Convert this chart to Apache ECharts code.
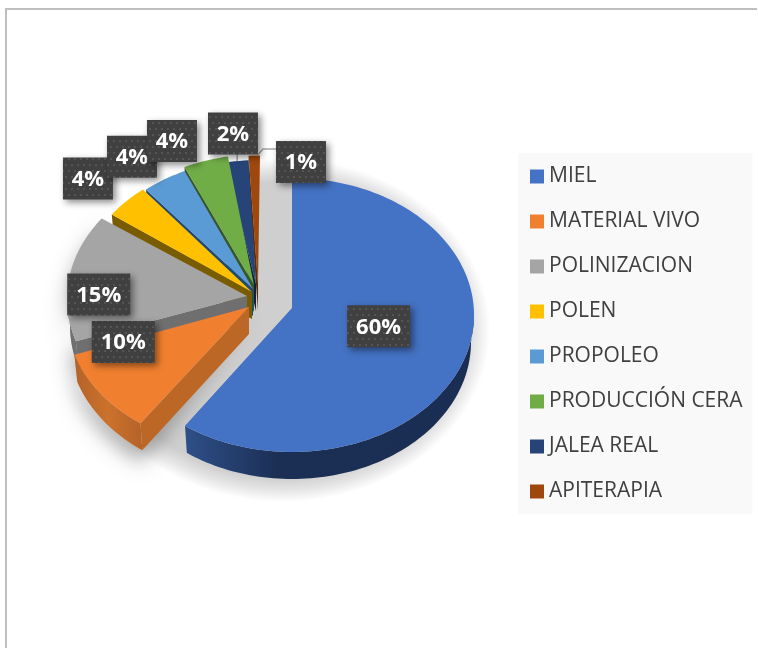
<!DOCTYPE html>
<html><head><meta charset="utf-8">
<style>html,body{margin:0;padding:0;background:#fff}#c{width:758px;height:648px}</style>
<script src="https://cdn.jsdelivr.net/npm/echarts@6/dist/echarts.min.js"></script>
</head><body><div id="c"></div>
<script>
const categories = ['MIEL','MATERIAL VIVO','POLINIZACION','POLEN','PROPOLEO','PRODUCCIÓN CERA','JALEA REAL','APITERAPIA'];
const values = [60,10,15,4,4,4,2,1];

const palette = ['#4472c4','#f0802f','#a5a5a5','#ffc000','#5b9bd5','#70ad47','#264478','#9e480e'];
const sideColors = ['#1b2f55','#bd6726','#6f6f6f','#7a5c00','#1f4a75','#38562b','#111f38','#5c2a08'];
const RX = 182, RY = 137, DEPTH = 27, RXB = 179;
// exploded position of each slice: ellipse centre and apex of the wedge
const centres = [[292,315],[247.5,312.5],[249,299],[259,295],[262,295],[262,291],[260,297],[260,292.5]];
const apexes = [[292,308],[249,307],[247,296],[252,292],[253,289],[254,285],[256,284],[258,284]];
const labelNudge = [[-86.5,-31],[23,-51],[29.5,17],[-38.4,-22.7],[-32.5,-22.5],[-33.8,-19.7],[-4.2,-27.6],[46.7,6.4]];
const total = values.reduce((a,b)=>a+b,0);
const starts = []; values.reduce((a,v,i)=>{starts[i]=a;return a+v;},0);
const deg = v => v/total*360;
function rim(c,a,rx,dy){const r=a*Math.PI/180;return [c[0]+rx*Math.sin(r), c[1]+(dy||0)-RY*Math.cos(r)];}
function arc(c,a0,a1,rx,dy){const n=Math.max(2,Math.ceil(Math.abs(a1-a0)/1.5));const p=[];for(let i=0;i<=n;i++)p.push(rim(c,a0+(a1-a0)*i/n,rx,dy));return p;}
function wedge(i){const a0=deg(starts[i]),a1=a0+deg(values[i]);return [apexes[i]].concat(arc(centres[i],a0,a1,RX));}
function body(i){const a0=deg(starts[i]),a1=a0+deg(values[i]);
  return [[apexes[i][0],apexes[i][1]+DEPTH]].concat(arc(centres[i],a0,a1,RXB,DEPTH));}

const dotCanvas=document.createElement('canvas');dotCanvas.width=12;dotCanvas.height=12;
(function(){const g=dotCanvas.getContext('2d');g.fillStyle='#404040';g.fillRect(0,0,12,12);g.fillStyle='#545454';
  g.fillRect(2,2,2,2);g.fillRect(8,2,2,2);g.fillRect(5,8,2,2);g.fillRect(11,8,1,2);g.fillRect(0,8,1,2);})();

function renderSlice(i){return function(){
  const a0=deg(starts[i]),a1=a0+deg(values[i]),c=centres[i],ap=apexes[i];
  const kids=[];
  const w0=Math.max(a0,90),w1=Math.min(a1,270);
  if(w1>w0){
    const pts=arc(c,w0,w1,RX).concat(arc(c,w1,w0,RXB,DEPTH));
    let fill=sideColors[i];
    if(i===0) fill={type:'linear',x:1,y:0,x2:0,y2:0,colorStops:[{offset:0,color:'#1a2d52'},{offset:.68,color:'#1b2f55'},{offset:1,color:'#2e4f88'}]};
    if(i===1) fill={type:'linear',x:0,y:0,x2:1,y2:0,colorStops:[{offset:0,color:'#b5622a'},{offset:.5,color:'#cb722b'},{offset:1,color:'#b5622a'}]};
    kids.push({type:'polygon',shape:{points:pts},style:{fill:fill}});
  }
  if(i>0){
    const r=rim(c,a0,RX),r2=rim(c,a0,RXB,DEPTH);
    kids.push({type:'polygon',shape:{points:[ap,r,r2,[ap[0],ap[1]+DEPTH]]},style:{fill:sideColors[i]}});
  }
  kids.push({type:'polygon',shape:{points:wedge(i)},style:{fill:palette[i]}});
  return {type:'group',children:kids};
};}

function renderShadow(){
  const kids=[{type:'circle',x:283,y:330,scaleX:207,scaleY:172,shape:{cx:0,cy:0,r:1},
    style:{fill:{type:'radial',x:.5,y:.5,r:.5,colorStops:[{offset:0,color:'#cfcfcf'},{offset:.86,color:'#cfcfcf'},{offset:.93,color:'rgba(207,207,207,.55)'},{offset:1,color:'rgba(207,207,207,0)'}]}}}];
  values.slice(1,3).forEach((v,k)=>{
    const i=k+1;
    const pts=wedge(i).concat(body(i).slice(1).reverse());
    kids.push({type:'polygon',shape:{points:pts},style:{fill:'#cfcfcf',shadowBlur:20,shadowColor:'rgba(0,0,0,.35)',shadowOffsetY:12}});
  });
  return {type:'group',children:kids};
}

function renderLabels(){
  const kids=[];
  kids.push({type:'polyline',shape:{points:(function(){const p=rim(centres[6],deg(starts[6]+values[6]/2),RX);return [[p[0],p[1]],[p[0],154]];})()},style:{stroke:'#a6a6a6',lineWidth:1.5,fill:null}});
  kids.push({type:'polyline',shape:{points:(function(){const p=rim(centres[7],deg(starts[7]+values[7]/2),RX);return [[p[0]+3,p[1]],[263,149],[276,149]];})()},style:{stroke:'#a6a6a6',lineWidth:1.5,fill:null}});
  [1,0,2,3,4,5,6,7].forEach(i=>{
    const mid=deg(starts[i]+values[i]/2),p=rim(centres[i],mid,RX);
    const x=p[0]+labelNudge[i][0],y=p[1]+labelNudge[i][1];
    const txt=values[i]+'%';
    const w=txt.length>2?63:50,h=42;
    kids.push({type:'rect',shape:{x:x-w/2,y:y-h/2,width:w,height:h},
      style:{fill:{image:dotCanvas,repeat:'repeat'},shadowBlur:7,shadowColor:'rgba(0,0,0,.45)',shadowOffsetX:3,shadowOffsetY:3}});
    kids.push({type:'text',style:{text:txt,x:x,y:y+1,align:'center',verticalAlign:'middle',fill:'#fff',
      fontFamily:'"Open Sans"',fontWeight:700,fontSize:22}});
  });
  return {type:'group',children:kids};
}

const order=[7,6,5,4,3,2,1,0];
const series=[{type:'custom',name:'_sombra',coordinateSystem:'none',silent:true,z:1,data:[0],renderItem:renderShadow}];
order.forEach((i,k)=>series.push({type:'custom',name:categories[i],coordinateSystem:'none',silent:true,z:2+k*0.01,
  itemStyle:{color:palette[i]},data:[values[i]],renderItem:renderSlice(i)}));
series.push({type:'custom',name:'_etiquetas',coordinateSystem:'none',silent:true,z:5,data:[0],renderItem:renderLabels});

const chart=echarts.init(document.getElementById('c'),null,{renderer:'canvas'});
chart.setOption({
  animation:false,backgroundColor:'#fff',
  graphic:[{type:'polyline',silent:true,shape:{points:[[6,648],[6,9],[757,9]]},style:{stroke:'#bfbfbf',lineWidth:2,fill:null}}],
  legend:{orient:'vertical',left:518,top:153,data:categories,selectedMode:false,icon:'rect',
    itemWidth:14,itemHeight:14,itemGap:24,backgroundColor:'#f9f9f9',padding:[13,10,12,12],
    textStyle:{fontFamily:'"Open Sans"',fontSize:21,color:'#404040',lineHeight:20}},
  series:series
});
</script></body></html>
